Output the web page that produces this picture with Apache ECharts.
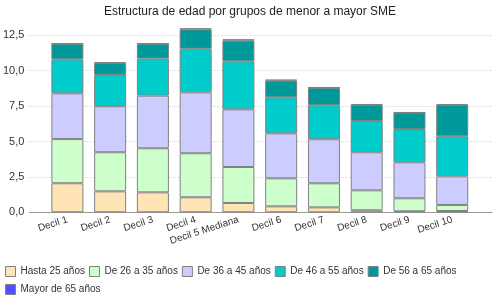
<!DOCTYPE html>
<html><head><meta charset="utf-8">
<script src="https://cdn.jsdelivr.net/npm/echarts@6/dist/echarts.min.js"></script>
<style>html,body{margin:0;padding:0;background:#fff}#c{width:500px;height:300px}</style>
</head><body><div id="c"></div>
<script>
var categories = ['Decil 1','Decil 2','Decil 3','Decil 4','Decil 5 Mediana','Decil 6','Decil 7','Decil 8','Decil 9','Decil 10'];
var seriesNames = ['Hasta 25 años','De 26 a 35 años','De 36 a 45 años','De 46 a 55 años','De 56 a 65 años','Mayor de 65 años'];
var hasta25 = [2.05,1.48,1.41,1.06,0.66,0.42,0.35,0.14,0.07,0.09];
var de26a35 = [3.12,2.76,3.11,3.11,2.54,1.98,1.70,1.41,0.92,0.43];
var de36a45 = [3.23,3.25,3.72,4.30,4.07,3.18,3.11,2.69,2.54,2.02];
var de46a55 = [2.40,2.21,2.61,3.08,3.39,2.54,2.40,2.21,2.35,2.83];
var de56a65 = [1.11,0.84,1.06,1.37,1.46,1.18,1.24,1.13,1.16,2.21];
var mayor65 = [0.02,0.05,0.02,0.08,0.10,0.07,0.03,0.05,0.02,0.05];
var yTicks = [0, 2.5, 5, 7.5, 10, 12.5];

var colors = ['#FFE4B5','#CCFFCC','#CCCCFF','#00CCCC','#009999','#5050FF'];
var values = [hasta25,de26a35,de36a45,de46a55,de56a65,mayor65];
var font = 'Liberation Sans, Arial, sans-serif';
var pxPerUnit = 177/12.5;
var baseY = 212.3;
var mainMax = 14;

var chart = echarts.init(document.getElementById('c'), null, {renderer:'canvas'});
chart.setOption({
  animation:false,
  title:{text:'Estructura de edad por grupos de menor a mayor SME',left:'center',top:1,
    textStyle:{fontFamily:font,fontSize:12,fontWeight:'normal',color:'#222'}},
  legend:[{
    data:seriesNames.slice(0,5),left:5,top:266,padding:0,icon:'rect',itemWidth:10,itemHeight:10,itemGap:4,
    textStyle:{fontFamily:font,fontSize:10,color:'#333'},
    itemStyle:{borderColor:'#808080',borderWidth:1}
  },{
    data:seriesNames.slice(5),left:5,top:284,padding:0,icon:'rect',itemWidth:10,itemHeight:10,itemGap:4,
    textStyle:{fontFamily:font,fontSize:10,color:'#333'},
    itemStyle:{borderColor:'#808080',borderWidth:1}
  }],
  grid:[
    {left:26,right:8,top:baseY-12.5*pxPerUnit,height:12.5*pxPerUnit},
    {left:46,width:427.6,top:baseY-mainMax*pxPerUnit,height:mainMax*pxPerUnit}
  ],
  xAxis:[
    {gridIndex:0,type:'category',data:[''],axisLine:{lineStyle:{color:'#999'}},axisTick:{show:false},axisLabel:{show:false}},
    {gridIndex:1,type:'category',data:categories,axisLine:{show:false},axisTick:{show:false},
      axisLabel:{rotate:18,margin:7,interval:0,fontFamily:font,fontSize:10,color:'#333'}}
  ],
  yAxis:[
    {gridIndex:0,type:'value',min:0,max:12.5,interval:2.5,axisLine:{show:false},axisTick:{show:false},
      axisLabel:{margin:5,fontFamily:font,fontSize:11,color:'#333',
        formatter:function(v){return yTicks.indexOf(v)>=0 ? v.toFixed(1).replace('.',','):'';}},
      splitLine:{lineStyle:{color:'#d8d8d8',type:[2,2]}}},
    {gridIndex:1,type:'value',min:0,max:mainMax,show:false,splitLine:{show:false}}
  ],
  series:values.map(function(v,i){
    return {name:seriesNames[i],type:'bar',stack:'a',xAxisIndex:1,yAxisIndex:1,data:v,barWidth:32,
      itemStyle:{color:colors[i],borderColor:'#808080',borderWidth:1},emphasis:{disabled:true}};
  })
});
</script></body></html>
